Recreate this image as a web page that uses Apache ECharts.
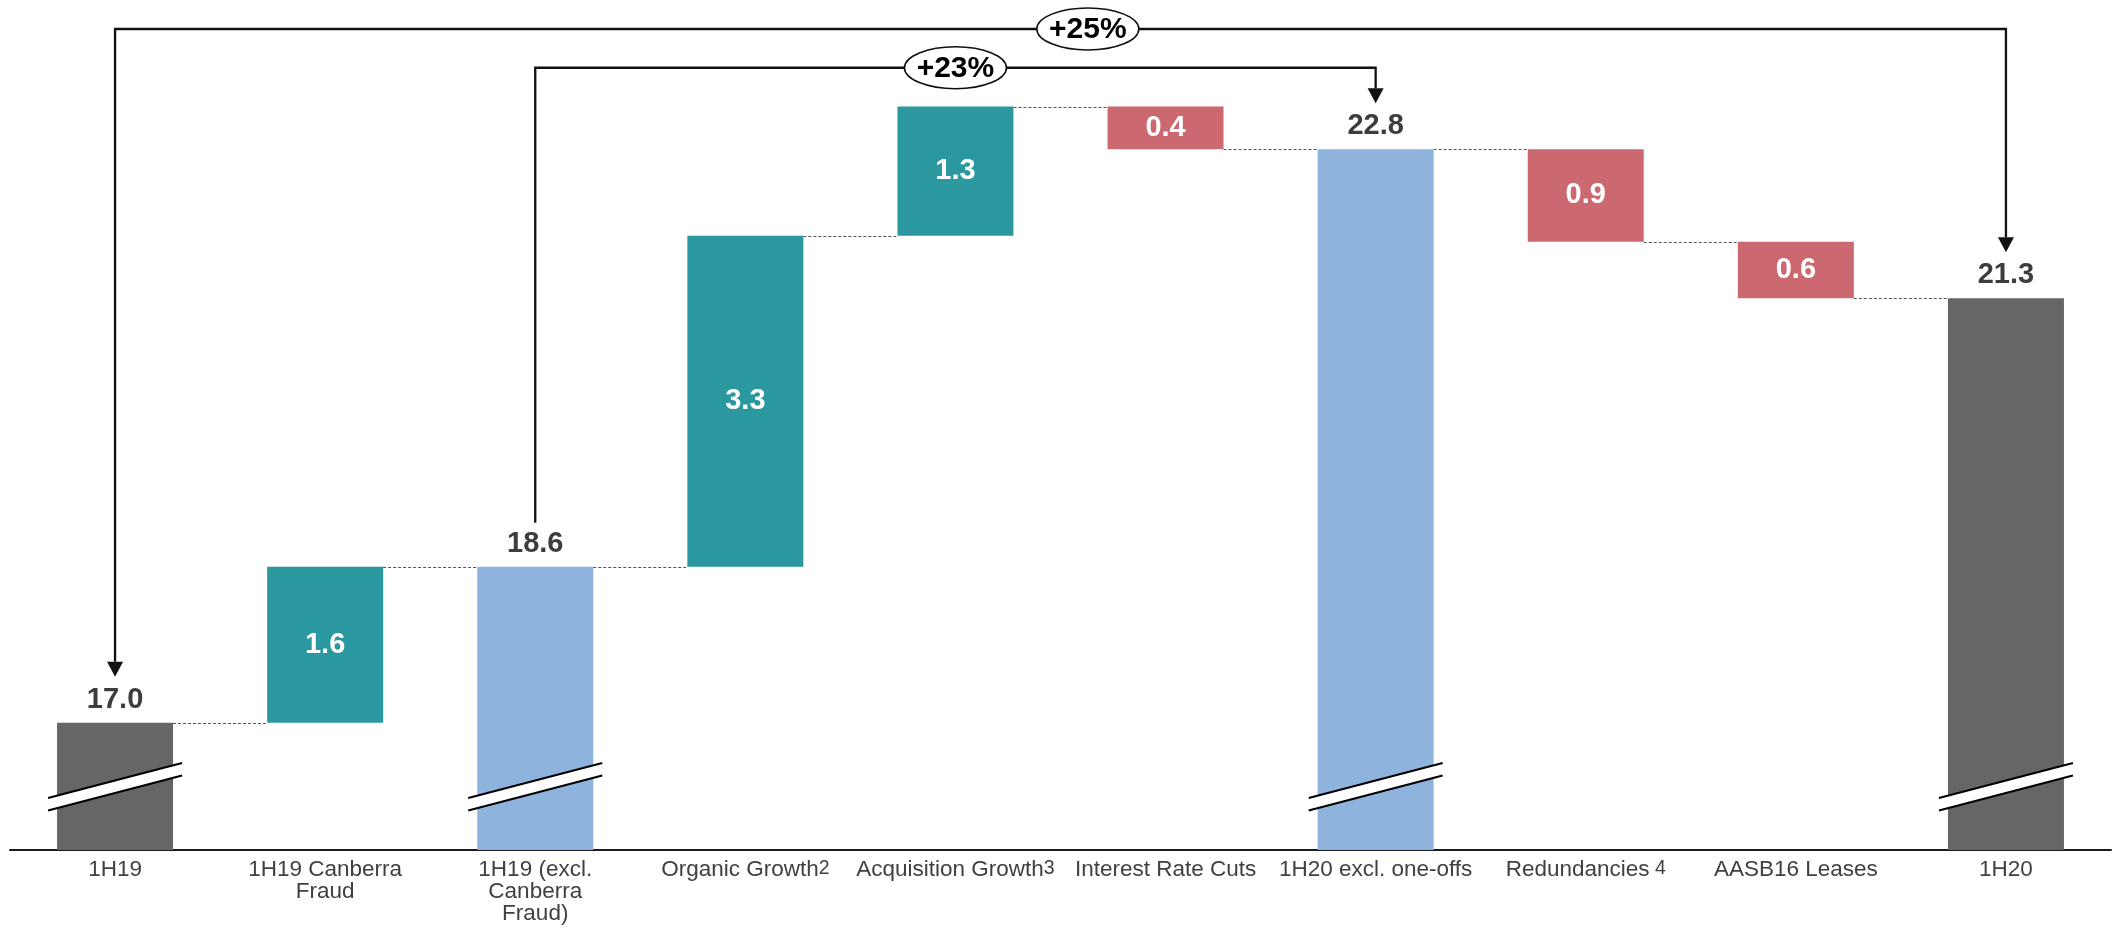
<!DOCTYPE html>
<html>
<head>
<meta charset="utf-8">
<script src="https://cdn.jsdelivr.net/npm/echarts@6/dist/echarts.min.js"></script>
<style>
html,body{margin:0;padding:0;background:#ffffff;}
#chart{width:2118px;height:927px;}
</style>
</head>
<body>
<div id="chart"></div>
<script>
// ---------------- data ----------------
const categories = ['1H19', '1H19 Canberra\nFraud', '1H19 (excl.\nCanberra\nFraud)', 'Organic Growth', 'Acquisition Growth', 'Interest Rate Cuts', '1H20 excl. one-offs', 'Redundancies', 'AASB16 Leases', '1H20'];
const footnotes = ['', '', '', '2', '3', '', '', ' 4', '', ''];
// values (labels show them to one decimal)
const values = [17.0, 1.57, 18.57, 3.33, 1.30, -0.43, 22.77, -0.93, -0.57, 21.27];
const kinds = ['total', 'delta', 'total', 'delta', 'delta', 'delta', 'total', 'delta', 'delta', 'total'];
const comparisonFrom = [0, 2];
const comparisonTo = [9, 6];
const comparisonLabels = ['+25%', '+23%'];

// ---------------- layout / style ----------------
const Y_MIN = 15.72, Y_MAX = 24.02;
const FONT = "'Liberation Sans', Arial, Helvetica, sans-serif";
const BAR_RATIO = 0.552;
const C_UP = '#2A989E', C_DOWN = '#CC6870', C_GREY = '#666666', C_BLUE = '#8EB3DD';
const bracketLevels = [23.98, 23.59];        // heights of the comparison brackets
const bracketLabelAt = [4.63, 4.0];          // category position of the ellipse labels
const bracketArrowStart = [true, false];

function totalColor(i) { return (i === 0 || i === categories.length - 1) ? C_GREY : C_BLUE; }

// running waterfall
const rows = [];
let running = 0;
values.forEach((v, i) => {
  let lo, hi, end;
  if (kinds[i] === 'total') { lo = Y_MIN; hi = v; end = v; }
  else { end = +(running + v).toFixed(3); lo = Math.min(running, end); hi = Math.max(running, end); }
  running = end;
  rows.push([i, lo, hi, end, v]);
});
const connectors = rows.slice(0, rows.length - 1).map(r => [r[0], r[3]]);
const brackets = comparisonFrom.map((f, k) => [f, comparisonTo[k], bracketLevels[k], k]);

function barTopPx(api, idx) {
  return api.coord([idx, rows[idx][2]])[1];
}

const chart = echarts.init(document.getElementById('chart'), null, {renderer: 'canvas'});

const option = {
  animation: false,
  backgroundColor: '#ffffff',
  grid: {left: 10, right: 7, top: 25, bottom: 77, containLabel: false},
  xAxis: {
    type: 'category',
    data: categories,
    boundaryGap: true,
    axisTick: {show: false},
    axisLine: {show: true, lineStyle: {color: '#1a1a1a', width: 2}},
    axisLabel: {
      interval: 0,
      margin: 9,
      color: '#404040',
      fontFamily: FONT,
      fontSize: 22.5,
      lineHeight: 22,
      formatter: function (val, idx) {
        const lines = val.split('\n');
        return lines.map((l, k) => '{n|' + l + '}' + ((k === lines.length - 1 && footnotes[idx]) ? '{sup|' + footnotes[idx] + '}' : '')).join('\n');
      },
      rich: {
        n: {fontSize: 22.5, lineHeight: 22, color: '#404040', fontFamily: FONT},
        sup: {fontSize: 19.5, lineHeight: 16.5, verticalAlign: 'top', color: '#404040', fontFamily: FONT}
      }
    }
  },
  yAxis: {
    type: 'value', min: Y_MIN, max: Y_MAX,
    show: false, splitLine: {show: false}
  },
  series: [
    {
      type: 'custom',
      name: 'bars',
      clip: false,
      data: rows,
      encode: {x: 0, y: [1, 2]},
      renderItem: function (params, api) {
        const i = api.value(0), lo = api.value(1), hi = api.value(2), v = api.value(4);
        const band = api.size([1, 0])[0];
        const w = band * BAR_RATIO;
        const pHi = api.coord([i, hi]);
        const pLo = api.coord([i, lo]);
        const cx = pHi[0];
        const isTotal = kinds[i] === 'total';
        const color = isTotal ? totalColor(i) : (v >= 0 ? C_UP : C_DOWN);
        const children = [{
          type: 'rect',
          shape: {x: cx - w / 2, y: pHi[1], width: w, height: pLo[1] - pHi[1]},
          style: {fill: color}
        }];
        if (isTotal) {
          children.push({
            type: 'text', x: cx, y: pHi[1] - 23,
            style: {text: v.toFixed(1), fill: '#3d3d3d', font: 'bold 29px ' + FONT, align: 'center', verticalAlign: 'middle'}
          });
          // axis-break mark
          const yb = pLo[1], ext = 9, gap = 12.5;
          const xl = cx - w / 2 - ext, xr = cx + w / 2 + ext;
          const yl = yb - 52, yr = yb - 87;
          children.push({
            type: 'polygon',
            shape: {points: [[xl, yl], [xr, yr], [xr, yr + gap], [xl, yl + gap]]},
            style: {fill: '#ffffff'}
          });
          children.push({type: 'line', shape: {x1: xl, y1: yl, x2: xr, y2: yr}, style: {stroke: '#000', lineWidth: 2}});
          children.push({type: 'line', shape: {x1: xl, y1: yl + gap, x2: xr, y2: yr + gap}, style: {stroke: '#000', lineWidth: 2}});
        } else {
          children.push({
            type: 'text', x: cx, y: (pHi[1] + pLo[1]) / 2,
            style: {text: Math.abs(v).toFixed(1), fill: '#ffffff', font: 'bold 29px ' + FONT, align: 'center', verticalAlign: 'middle'}
          });
        }
        return {type: 'group', children: children};
      },
      z: 2
    },
    {
      type: 'custom',
      name: 'connectors',
      clip: false,
      data: connectors,
      encode: {x: 0, y: 1},
      renderItem: function (params, api) {
        const i = api.value(0), lvl = api.value(1);
        const band = api.size([1, 0])[0];
        const w = band * BAR_RATIO;
        const a = api.coord([i, lvl]);
        const b = api.coord([i + 1, lvl]);
        const y = Math.round(a[1]) + 0.5;
        return {
          type: 'line',
          shape: {x1: a[0] + w / 2, y1: y, x2: b[0] - w / 2, y2: y},
          style: {stroke: '#555555', lineWidth: 1, lineDash: [3, 2]}
        };
      },
      z: 1
    },
    {
      type: 'custom',
      name: 'brackets',
      clip: false,
      data: brackets,
      encode: {x: 0, y: 2},
      renderItem: function (params, api) {
        const f = api.value(0), t = api.value(1), lvl = api.value(2), k = api.value(3);
        const band = api.size([1, 0])[0];
        const pf = api.coord([f, lvl]);
        const pt = api.coord([t, lvl]);
        const y = pf[1];
        const tipF = barTopPx(api, f) - 46;
        const tipT = barTopPx(api, t) - 46;
        const ah = 15, aw = 8;
        const stroke = '#111111';
        const children = [];
        const startEnd = bracketArrowStart[k] ? tipF - ah : tipF + 2;
        children.push({
          type: 'polyline',
          shape: {points: [[pf[0], startEnd], [pf[0], y], [pt[0], y], [pt[0], tipT - ah]]},
          style: {stroke: stroke, lineWidth: 2.3, fill: null, lineJoin: 'miter'}
        });
        children.push({
          type: 'polygon',
          shape: {points: [[pt[0] - aw, tipT - ah], [pt[0] + aw, tipT - ah], [pt[0], tipT]]},
          style: {fill: stroke}
        });
        if (bracketArrowStart[k]) {
          children.push({
            type: 'polygon',
            shape: {points: [[pf[0] - aw, tipF - ah], [pf[0] + aw, tipF - ah], [pf[0], tipF]]},
            style: {fill: stroke}
          });
        }
        const at = bracketLabelAt[k];
        const base = Math.floor(at);
        const ex = api.coord([base, lvl])[0] + (at - base) * band;
        children.push({
          type: 'ellipse',
          shape: {cx: ex, cy: y, rx: 51, ry: 21},
          style: {fill: '#ffffff', stroke: stroke, lineWidth: 1.6}
        });
        children.push({
          type: 'text', x: ex, y: y + 1,
          style: {text: comparisonLabels[k], fill: '#000', font: 'bold 30px ' + FONT, align: 'center', verticalAlign: 'middle'}
        });
        return {type: 'group', children: children};
      },
      z: 5
    }
  ]
};

chart.setOption(option);
</script>
</body>
</html>
